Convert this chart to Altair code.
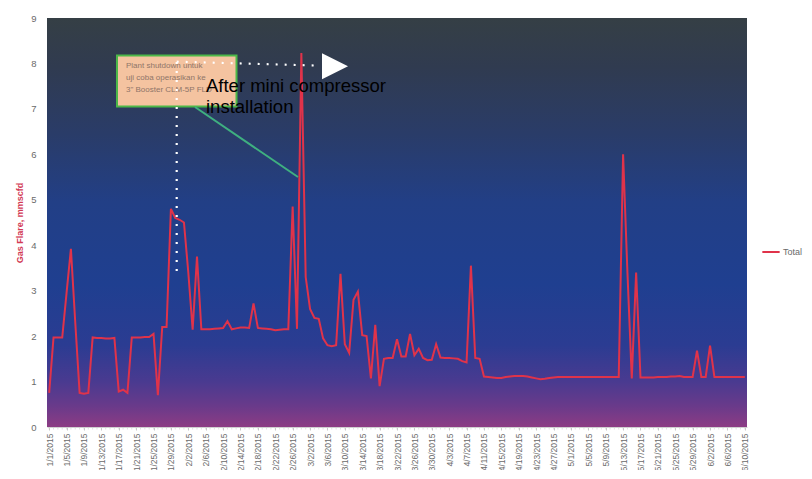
import altair as alt
import pandas as pd

# ---- data ----
dates = [f"{d.month}/{d.day}/{d.year}" for d in pd.date_range("2015-01-01", "2015-06-10", freq="D")]
total = [
    0.75, 1.97, 1.97, 1.97, 2.95, 3.92, 2.30, 0.75, 0.73, 0.75,   # 1/1 - 1/10
    1.97, 1.96, 1.96, 1.95, 1.95, 1.96, 0.78, 0.82, 0.75, 1.97,   # 1/11 - 1/20
    1.97, 1.97, 1.98, 1.98, 2.05, 0.70, 2.20, 2.20, 4.80, 4.60,   # 1/21 - 1/30
    4.56, 4.50, 3.40, 2.14, 3.75, 2.15, 2.15, 2.15, 2.16, 2.17,   # 1/31 - 2/9
    2.18, 2.33, 2.15, 2.17, 2.19, 2.19, 2.18, 2.72, 2.18, 2.17,   # 2/10 - 2/19
    2.16, 2.15, 2.13, 2.14, 2.15, 2.15, 4.85, 2.16, 8.23, 3.30,   # 2/20 - 3/1
    2.60, 2.40, 2.38, 1.95, 1.80, 1.78, 1.80, 3.37, 1.82, 1.63,   # 3/2 - 3/11
    2.80, 2.98, 2.02, 2.00, 1.07, 2.25, 0.90, 1.50, 1.52, 1.52,   # 3/12 - 3/21
    1.93, 1.55, 1.55, 2.05, 1.58, 1.72, 1.52, 1.47, 1.48, 1.82,   # 3/22 - 3/31
    1.53, 1.52, 1.52, 1.51, 1.50, 1.45, 1.42, 3.55, 1.52, 1.50,   # 4/1 - 4/10
    1.11, 1.10, 1.09, 1.08, 1.08, 1.10, 1.11, 1.12, 1.12, 1.12,   # 4/11 - 4/20
    1.11, 1.09, 1.07, 1.05, 1.06, 1.08, 1.09, 1.10, 1.10, 1.10,   # 4/21 - 4/30
    1.10, 1.10, 1.10, 1.10, 1.10, 1.10, 1.10, 1.10, 1.10, 1.10,   # 5/1 - 5/10
    1.10, 1.10, 6.00, 3.40, 1.07, 3.40, 1.09, 1.09, 1.09, 1.09,   # 5/11 - 5/20
    1.10, 1.10, 1.10, 1.11, 1.11, 1.12, 1.10, 1.10, 1.10, 1.68,   # 5/21 - 5/30
    1.10, 1.10, 1.79, 1.10, 1.10, 1.10, 1.10, 1.10, 1.10, 1.10,   # 5/31 - 6/9
    1.10,                                                          # 6/10
]
series_name = ["Total"]
x_tick_labels = dates[::4]
y_ticks = list(range(0, 10))
box_lines = ["Plant shutdown untuk", "uji coba  operasikan ke", '3" Booster CLM-5P FLD']
note_lines = ["After mini compressor", "installation"]

df = pd.DataFrame({"date": dates, "value": total, "series": series_name[0]})

W, H = 700, 409
FONT = "Liberation Sans"
one = alt.Data(values=[{}])

x_scale = alt.Scale(type="point", padding=0.5)

bg = alt.Chart(one).mark_rect(
    fill=alt.LinearGradient(
        gradient="linear",
        stops=[
            alt.GradientStop(offset=0.0, color="#353f45"),
            alt.GradientStop(offset=0.12, color="#303b50"),
            alt.GradientStop(offset=0.28, color="#2a3c68"),
            alt.GradientStop(offset=0.45, color="#223f86"),
            alt.GradientStop(offset=0.65, color="#1f3f90"),
            alt.GradientStop(offset=0.8, color="#2b3c92"),
            alt.GradientStop(offset=0.89, color="#4a3a90"),
            alt.GradientStop(offset=0.95, color="#6a3a8a"),
            alt.GradientStop(offset=1.0, color="#8c3c84"),
        ],
        x1=0, x2=0, y1=0, y2=1,
    )
).encode(x=alt.value(0), x2=alt.value(W), y=alt.value(0), y2=alt.value(H))

base = alt.Chart(df)

line = base.mark_line(strokeWidth=2, strokeJoin="miter").encode(
    x=alt.X(
        "date:O", sort=None, scale=x_scale, title=None,
        axis=alt.Axis(
            values=x_tick_labels, labelAngle=-90, labelFontSize=8.5, labelColor="#6a6a6a",
            labelFont=FONT, labelPadding=3, tickSize=3, tickColor="#c8c8c8",
            domainColor="#d0d0d0", labelOverlap=False, grid=False,
        ),
    ),
    y=alt.Y(
        "value:Q", scale=alt.Scale(domain=[0, 9], nice=False),
        axis=alt.Axis(
            values=y_ticks, title="Gas Flare, mmscfd", titleColor="#d23a55",
            titleFontWeight="bold", titleFontSize=9, titleFont=FONT, titlePadding=6,
            labelFontSize=9.5, labelColor="#6a6a6a", labelFont=FONT, labelPadding=11,
            tickSize=0, domain=False, grid=True, gridColor="#ffffff", gridOpacity=0.18,
        ),
    ),
    color=alt.Color(
        "series:N",
        scale=alt.Scale(domain=series_name, range=["#e0334a"]),
        legend=alt.Legend(
            title=None, orient="none", legendX=714, legendY=224, symbolType="stroke",
            symbolStrokeWidth=2, symbolSize=300, labelFontSize=9, labelColor="#6a6a6a",
            labelFont=FONT, labelOffset=2,
        ),
    ),
)

minor_ticks = base.mark_rule(color="#cfcfcf", strokeWidth=0.6).encode(
    x=alt.X("date:O", sort=None, scale=x_scale),
    y=alt.value(H),
    y2=alt.value(H + 2.5),
)

box = alt.Chart(one).mark_rect(fill="#f4c3a0", stroke="#4cb848", strokeWidth=2).encode(
    x=alt.value(70), x2=alt.value(189.5), y=alt.value(37.5), y2=alt.value(88.5)
)
box_text = alt.Chart(one).mark_text(
    text=box_lines, align="left", baseline="top", fontSize=8, lineHeight=12.3,
    font=FONT, color="#8f7568",
).encode(x=alt.value(79), y=alt.value(43.5))

pointer = alt.Chart(one).mark_rule(color="#3fb080", strokeWidth=2).encode(
    x=alt.value(148), y=alt.value(89), x2=alt.value(251), y2=alt.value(159)
)
vdots = alt.Chart(one).mark_rule(color="#ffffff", strokeWidth=2.2, strokeDash=[2, 7]).encode(
    x=alt.value(129.7), y=alt.value(44), x2=alt.value(129.7), y2=alt.value(254)
)
hdots = alt.Chart(one).mark_rule(color="#ffffff", strokeWidth=2.2, strokeDash=[2, 7]).encode(
    x=alt.value(129.7), y=alt.value(43.7), x2=alt.value(273), y2=alt.value(47.7)
)
arrow = alt.Chart(one).mark_point(
    shape="M -1 -1 L 1 0 L -1 1 Z", size=676, filled=True, color="#ffffff", opacity=1
).encode(x=alt.value(288), y=alt.value(48.3))
note = alt.Chart(one).mark_text(
    text=note_lines, align="left", baseline="alphabetic", fontSize=18.5, lineHeight=21,
    font=FONT, color="#000000",
).encode(x=alt.value(159), y=alt.value(73.7))

chart = alt.layer(
    bg, minor_ticks, line, box, box_text, pointer, vdots, hdots, arrow, note
).properties(
    width=W, height=H,
    padding={"left": 39, "top": 10, "right": 57, "bottom": 43},
    autosize=alt.AutoSizeParams(type="none"),
    background="#ffffff",
).configure_view(stroke=None)

chart.save("out.html", embed_options={"renderer": "svg", "actions": False})
